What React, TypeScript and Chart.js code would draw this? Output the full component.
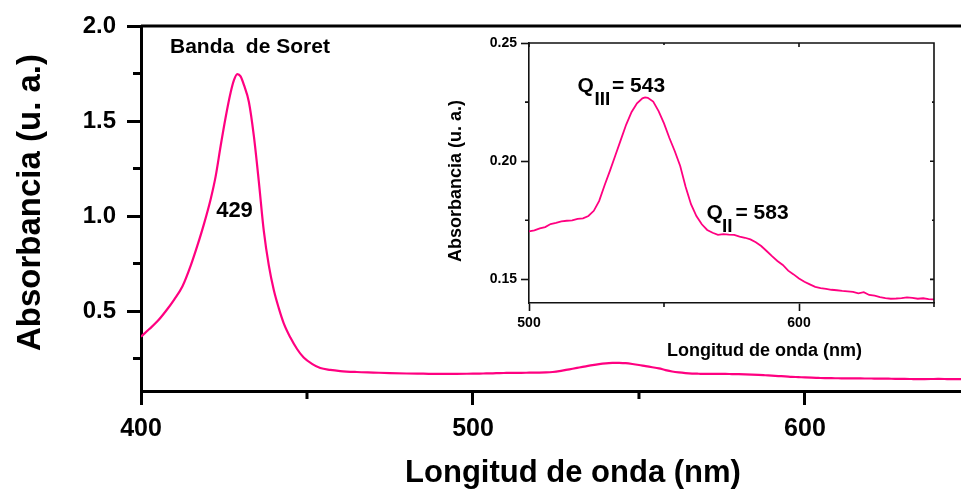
import React, { useEffect, useRef } from 'react';
import { Chart, registerables } from 'chart.js';

Chart.register(...registerables);

// UV-Vis absorption spectrum: wavelength (nm) and absorbance (a.u.)
const wavelengthNm = [
  400, 402.5, 405, 407.5, 410, 412.5, 415, 417, 419, 421,
  422.5, 424, 425.5, 427, 428, 429, 430, 431, 432.5, 434,
  435.5, 437, 438.5, 440, 441.5, 443, 445, 447, 449, 451.5,
  454, 457, 460, 465, 470, 475, 480, 485, 490, 495,
  500, 502, 504, 506, 508, 510, 512, 514, 516, 518,
  520, 522, 524, 526, 528, 530, 532, 534, 536, 538,
  540, 542, 543, 544, 546, 548, 550, 552, 554, 556,
  558, 560, 562, 564, 566, 568, 570, 572, 574, 576,
  578, 580, 582, 584, 586, 588, 590, 592, 594, 596,
  598, 600, 602, 604, 606, 608, 610, 612, 614, 616,
  618, 620, 622, 624, 626, 628, 630, 632, 634, 636,
  638, 640, 642, 644, 646, 648, 650,
];

const absorbance = [
  0.365, 0.405, 0.447, 0.5, 0.56, 0.63, 0.74, 0.845, 0.96, 1.09,
  1.21, 1.37, 1.52, 1.65, 1.715, 1.747, 1.735, 1.69, 1.6, 1.42,
  1.18, 0.92, 0.74, 0.61, 0.515, 0.435, 0.36, 0.3, 0.255, 0.222,
  0.2, 0.19, 0.184, 0.179, 0.176, 0.173, 0.171, 0.17, 0.169, 0.169,
  0.1703, 0.1707, 0.1716, 0.1721, 0.1734, 0.1739, 0.1745, 0.1748, 0.175, 0.1756,
  0.1758, 0.1768, 0.179, 0.1832, 0.1898, 0.196, 0.2025, 0.209, 0.2155, 0.2208,
  0.2245, 0.2266, 0.227, 0.2268, 0.2252, 0.2212, 0.216, 0.2098, 0.2042, 0.198,
  0.1892, 0.1818, 0.1768, 0.1733, 0.1709, 0.1697, 0.1688, 0.1691, 0.1689, 0.1688,
  0.1681, 0.1676, 0.1669, 0.1657, 0.1641, 0.162, 0.1598, 0.1578, 0.1561, 0.1537,
  0.1521, 0.1504, 0.149, 0.1479, 0.1468, 0.1463, 0.146, 0.1456, 0.1454, 0.1451,
  0.1449, 0.1447, 0.1441, 0.1446, 0.1434, 0.1431, 0.1425, 0.1421, 0.1418, 0.1419,
  0.1421, 0.1424, 0.1422, 0.1418, 0.142, 0.1416, 0.1415,
];

const mainXTickLabels = [400, 500, 600];
const mainYTickLabels = [0.5, 1.0, 1.5, 2.0];
const insetXTickLabels = [500, 600];
const insetYTickLabels = [0.15, 0.2, 0.25];

const soretText = 'Banda  de Soret';
const soretPeakText = '429';
const qIIIText = { base: 'Q', sub: 'III', rest: '= 543' };
const qIIText = { base: 'Q', sub: 'II', rest: '= 583' };
const xTitle = 'Longitud de onda (nm)';
const yTitle = 'Absorbancia (u. a.)';

const FONT = '"Liberation Sans", Arial, Helvetica, sans-serif';
const LINE_COLOR = '#ff0080';

const W = 961;
const H = 489;
const INSET = { left: 440, top: 30, width: 510, height: 340 };

const hasLabel = (v: number, list: number[]) => list.some((l) => Math.abs(l - v) < 1e-6);

const spectrum = () => wavelengthNm.map((x, i) => ({ x, y: absorbance[i] }));

const mainDecor = {
  id: 'mainDecor',
  afterDraw(chart: any) {
    const { ctx, chartArea: a } = chart;
    const xs = chart.scales.x;
    const ys = chart.scales.y;
    ctx.save();
    ctx.strokeStyle = '#000';
    ctx.lineWidth = 3;
    ctx.beginPath();
    ctx.moveTo(a.left, a.top);
    ctx.lineTo(a.right, a.top);
    // minor ticks
    xs.ticks.forEach((t: any) => {
      if (hasLabel(t.value, mainXTickLabels)) return;
      const p = xs.getPixelForValue(t.value);
      ctx.moveTo(p, a.bottom);
      ctx.lineTo(p, a.bottom + 8);
    });
    ys.ticks.forEach((t: any) => {
      if (hasLabel(t.value, mainYTickLabels)) return;
      const p = ys.getPixelForValue(t.value);
      ctx.moveTo(a.left, p);
      ctx.lineTo(a.left - 8, p);
    });
    ctx.stroke();

    ctx.fillStyle = '#000';
    ctx.textBaseline = 'alphabetic';
    ctx.textAlign = 'left';
    ctx.font = `bold 21px ${FONT}`;
    ctx.fillText(soretText, 170, 53);

    ctx.textAlign = 'center';
    ctx.font = `bold 22px ${FONT}`;
    ctx.fillText(soretPeakText, 234.5, 217);

    ctx.font = `bold 31px ${FONT}`;
    ctx.fillText(xTitle, 573, 482);

    ctx.translate(31, 202.5);
    ctx.rotate(-Math.PI / 2);
    ctx.textBaseline = 'middle';
    ctx.font = `bold 33px ${FONT}`;
    ctx.fillText(yTitle, 0, 0);
    ctx.restore();
  },
};

function drawQ(ctx: CanvasRenderingContext2D, q: { base: string; sub: string; rest: string }, x: number, y: number, subX: number, restX: number) {
  ctx.font = `bold 21px ${FONT}`;
  ctx.fillText(q.base, x, y);
  ctx.font = `bold 19px ${FONT}`;
  ctx.fillText(q.sub, subX, y + 13);
  ctx.font = `bold 21px ${FONT}`;
  ctx.fillText(q.rest, restX, y);
}

const insetDecor = {
  id: 'insetDecor',
  afterDraw(chart: any) {
    const { ctx, chartArea: a } = chart;
    const xs = chart.scales.x;
    const ys = chart.scales.y;
    ctx.save();
    ctx.strokeStyle = '#111';
    ctx.lineWidth = 1.6;
    ctx.beginPath();
    ctx.moveTo(a.left, a.top);
    ctx.lineTo(a.right, a.top);
    ctx.lineTo(a.right, a.bottom);
    xs.ticks.forEach((t: any) => {
      const major = hasLabel(t.value, insetXTickLabels);
      const p = xs.getPixelForValue(t.value);
      if (!major) {
        ctx.moveTo(p, a.bottom);
        ctx.lineTo(p, a.bottom + 4);
      }
      ctx.moveTo(p, a.top);
      ctx.lineTo(p, a.top + (major ? 4 : 2));
    });
    ys.ticks.forEach((t: any) => {
      const major = hasLabel(t.value, insetYTickLabels);
      const p = ys.getPixelForValue(t.value);
      if (!major) {
        ctx.moveTo(a.left, p);
        ctx.lineTo(a.left - 4, p);
      }
      ctx.moveTo(a.right, p);
      ctx.lineTo(a.right - (major ? 4 : 2), p);
    });
    ctx.stroke();

    ctx.fillStyle = '#000';
    ctx.textAlign = 'left';
    ctx.textBaseline = 'alphabetic';
    drawQ(ctx, qIIIText, 137.5, 61.7, 154.5, 172);
    drawQ(ctx, qIIText, 266.5, 189.3, 282, 295.5);

    ctx.textAlign = 'center';
    ctx.font = `bold 18px ${FONT}`;
    ctx.fillText(xTitle, 324.5, 325.5);

    ctx.translate(16, 151);
    ctx.rotate(-Math.PI / 2);
    ctx.textBaseline = 'middle';
    ctx.fillText(yTitle, 0, 0);
    ctx.restore();
  },
};

export default function App() {
  const mainRef = useRef<HTMLCanvasElement | null>(null);
  const insetRef = useRef<HTMLCanvasElement | null>(null);

  useEffect(() => {
    document.body.style.margin = '0';
    const charts: Chart[] = [];

    if (mainRef.current) {
      charts.push(
        new Chart(mainRef.current, {
          type: 'line',
          data: {
            datasets: [
              {
                data: spectrum(),
                borderColor: LINE_COLOR,
                borderWidth: 2.2,
                pointRadius: 0,
                cubicInterpolationMode: 'monotone',
                fill: false,
              },
            ],
          },
          options: {
            animation: false,
            responsive: false,
            maintainAspectRatio: false,
            layout: { padding: { top: 26, right: 0, bottom: 0, left: 0 } },
            plugins: { legend: { display: false }, tooltip: { enabled: false } },
            scales: {
              x: {
                type: 'linear',
                min: 400,
                max: 647,
                afterFit: (s: any) => {
                  s.height = 98;
                },
                border: { display: true, color: '#000', width: 3 },
                grid: {
                  drawOnChartArea: false,
                  drawTicks: true,
                  tickLength: 14,
                  tickWidth: 3,
                  tickColor: (c: any) => (c.tick && hasLabel(c.tick.value, mainXTickLabels) ? '#000' : 'rgba(0,0,0,0)'),
                },
                ticks: {
                  stepSize: 50,
                  includeBounds: false,
                  autoSkip: false,
                  maxRotation: 0,
                  padding: 9,
                  color: '#000',
                  font: { family: FONT, size: 25, weight: 'bold' },
                  callback: (v: any) => (hasLabel(Number(v), mainXTickLabels) ? String(v) : ''),
                },
              },
              y: {
                type: 'linear',
                min: 0.079,
                max: 2.0,
                afterFit: (s: any) => {
                  s.width = 141;
                },
                border: { display: true, color: '#000', width: 3 },
                grid: {
                  drawOnChartArea: false,
                  drawTicks: true,
                  tickLength: 14,
                  tickWidth: 3,
                  tickColor: (c: any) => (c.tick && hasLabel(c.tick.value, mainYTickLabels) ? '#000' : 'rgba(0,0,0,0)'),
                },
                ticks: {
                  stepSize: 0.25,
                  includeBounds: false,
                  autoSkip: false,
                  padding: 11,
                  color: '#000',
                  font: { family: FONT, size: 24, weight: 'bold' },
                  callback: (v: any) => (hasLabel(Number(v), mainYTickLabels) ? Number(v).toFixed(1) : ''),
                },
              },
            },
          },
          plugins: [mainDecor],
        } as any)
      );
    }

    if (insetRef.current) {
      charts.push(
        new Chart(insetRef.current, {
          type: 'line',
          data: {
            datasets: [
              {
                data: spectrum(),
                borderColor: LINE_COLOR,
                borderWidth: 1.8,
                pointRadius: 0,
                tension: 0,
                fill: false,
              },
            ],
          },
          options: {
            animation: false,
            responsive: false,
            maintainAspectRatio: false,
            layout: { padding: { top: 13, right: 16, bottom: 0, left: 0 } },
            plugins: { legend: { display: false }, tooltip: { enabled: false } },
            scales: {
              x: {
                type: 'linear',
                min: 500,
                max: 650,
                afterFit: (s: any) => {
                  s.height = 67;
                },
                border: { display: true, color: '#111', width: 1.6 },
                grid: {
                  drawOnChartArea: false,
                  drawTicks: true,
                  tickLength: 8,
                  tickWidth: 1.6,
                  tickColor: (c: any) => (c.tick && hasLabel(c.tick.value, insetXTickLabels) ? '#111' : 'rgba(0,0,0,0)'),
                },
                ticks: {
                  stepSize: 50,
                  includeBounds: false,
                  autoSkip: false,
                  maxRotation: 0,
                  padding: 4,
                  color: '#000',
                  font: { family: FONT, size: 14, weight: 'bold' },
                  callback: (v: any) => (hasLabel(Number(v), insetXTickLabels) ? String(v) : ''),
                },
              },
              y: {
                type: 'linear',
                min: 0.14,
                max: 0.25,
                afterFit: (s: any) => {
                  s.width = 89;
                },
                border: { display: true, color: '#111', width: 1.6 },
                grid: {
                  drawOnChartArea: false,
                  drawTicks: true,
                  tickLength: 8,
                  tickWidth: 1.6,
                  tickColor: (c: any) => (c.tick && hasLabel(c.tick.value, insetYTickLabels) ? '#111' : 'rgba(0,0,0,0)'),
                },
                ticks: {
                  stepSize: 0.025,
                  includeBounds: false,
                  autoSkip: false,
                  padding: 4,
                  color: '#000',
                  font: { family: FONT, size: 14, weight: 'bold' },
                  callback: (v: any) => (hasLabel(Number(v), insetYTickLabels) ? Number(v).toFixed(2) : ''),
                },
              },
            },
          },
          plugins: [insetDecor],
        } as any)
      );
    }

    return () => {
      charts.forEach((c) => c.destroy());
    };
  }, []);

  return (
    <div style={{ position: 'relative', width: W, height: H, background: '#fff' }}>
      <canvas ref={mainRef} width={W} height={H} style={{ position: 'absolute', left: 0, top: 0, width: W, height: H }} />
      <canvas
        ref={insetRef}
        width={INSET.width}
        height={INSET.height}
        style={{ position: 'absolute', left: INSET.left, top: INSET.top, width: INSET.width, height: INSET.height }}
      />
    </div>
  );
}
